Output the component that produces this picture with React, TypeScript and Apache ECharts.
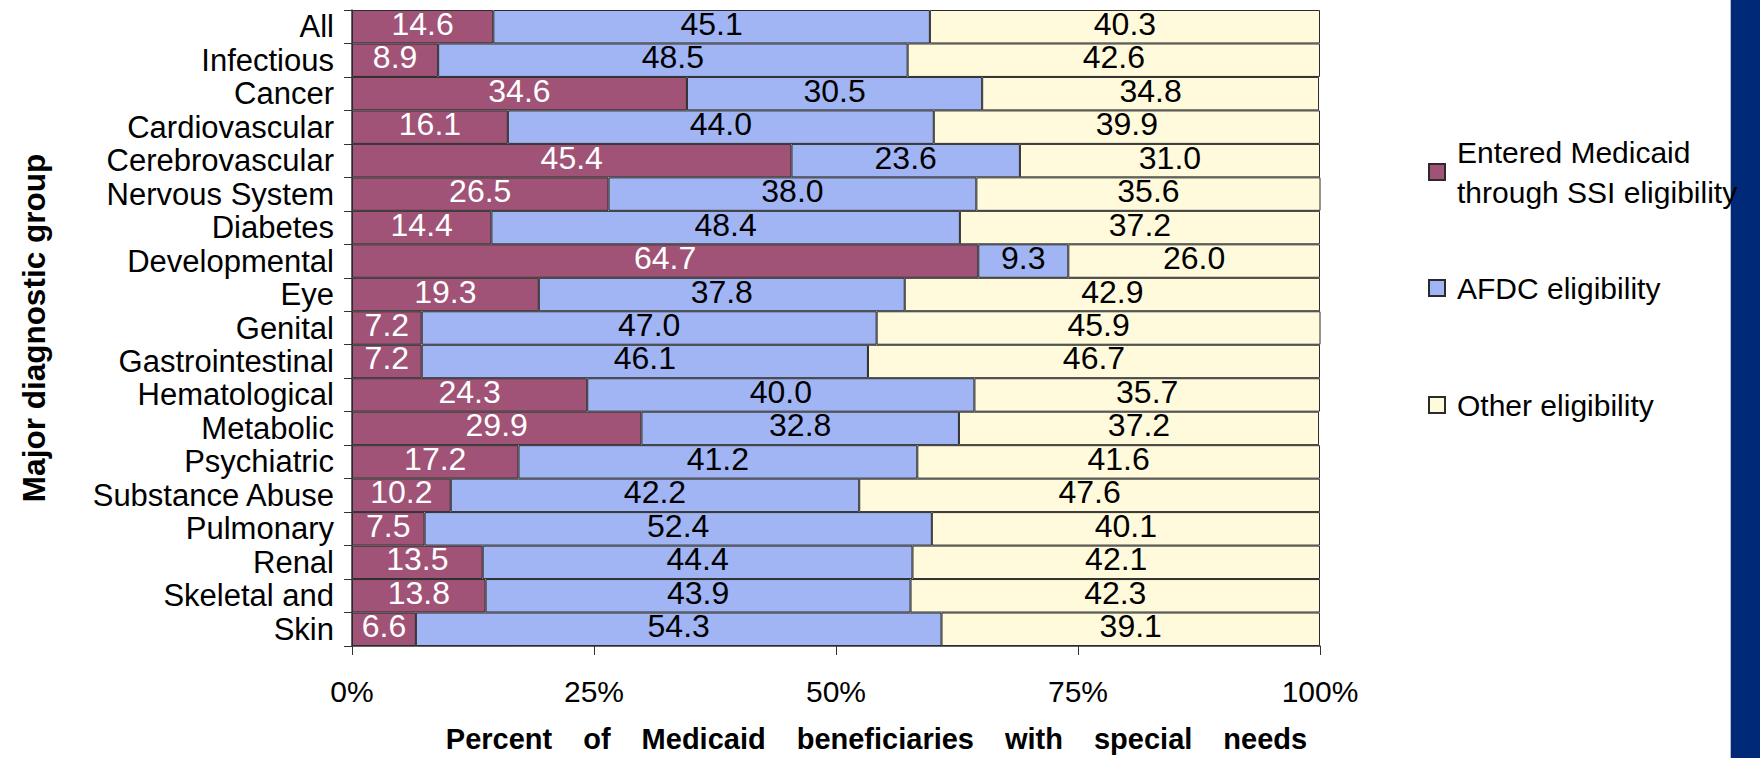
import React, { useEffect, useRef } from "react";
import * as echarts from "echarts";

const categories = [
  "All", "Infectious", "Cancer", "Cardiovascular", "Cerebrovascular", "Nervous System",
  "Diabetes", "Developmental", "Eye", "Genital", "Gastrointestinal", "Hematological",
  "Metabolic", "Psychiatric", "Substance Abuse", "Pulmonary", "Renal", "Skeletal and", "Skin",
];
const ssiValues = [14.6, 8.9, 34.6, 16.1, 45.4, 26.5, 14.4, 64.7, 19.3, 7.2, 7.2, 24.3, 29.9, 17.2, 10.2, 7.5, 13.5, 13.8, 6.6];
const afdcValues = [45.1, 48.5, 30.5, 44.0, 23.6, 38.0, 48.4, 9.3, 37.8, 47.0, 46.1, 40.0, 32.8, 41.2, 42.2, 52.4, 44.4, 43.9, 54.3];
const otherValues = [40.3, 42.6, 34.8, 39.9, 31.0, 35.6, 37.2, 26.0, 42.9, 45.9, 46.7, 35.7, 37.2, 41.6, 47.6, 40.1, 42.1, 42.3, 39.1];
const seriesNames = ["Entered Medicaid through SSI eligibility", "AFDC eligibility", "Other eligibility"];
const xAxisTitleWords = ["Percent", "of", "Medicaid", "beneficiaries", "with", "special", "needs"];
const yAxisTitle = "Major diagnostic group";

const FONT = "'Liberation Sans', Arial, sans-serif";
const COLORS = ["#A05376", "#A1B5F4", "#FFFADB"];
const LABEL_COLORS = ["#FFFFFF", "#000000", "#000000"];

export default function App() {
  const ref = useRef<HTMLDivElement>(null);
  useEffect(() => {
    document.body.style.margin = "0";
    if (!ref.current) return;
    const chart = echarts.init(ref.current, undefined, { renderer: "svg" });
    const dataSets = [ssiValues, afdcValues, otherValues];
    const xName = xAxisTitleWords.map((w, i) => `{${i === 0 ? "f" : "w"}|${w}}`).join("");
    const legendBase = {
      orient: "vertical",
      left: 1428,
      icon: "rect",
      itemWidth: 16,
      itemHeight: 16,
      padding: 0,
      selectedMode: false,
      z: 10,
      formatter: (name: string) =>
        name === seriesNames[0] ? "Entered Medicaid\nthrough SSI eligibility" : name,
    };
    chart.setOption({
      animation: false,
      backgroundColor: "#FFFFFF",
      textStyle: { fontFamily: FONT },
      grid: { left: 352, right: 440, top: 10, bottom: 110, containLabel: false },
      legend: [
        {
          ...legendBase,
          top: 112,
          data: [seriesNames[0]],
          textStyle: { fontSize: 30, lineHeight: 40, color: "#000", fontFamily: FONT, padding: [40, 0, 0, 7] },
        },
        {
          ...legendBase,
          top: 268,
          data: [seriesNames[1]],
          textStyle: { fontSize: 30, lineHeight: 40, color: "#000", fontFamily: FONT, padding: [0, 0, 0, 7] },
        },
        {
          ...legendBase,
          top: 385,
          data: [seriesNames[2]],
          textStyle: { fontSize: 30, lineHeight: 40, color: "#000", fontFamily: FONT, padding: [0, 0, 0, 7] },
        },
      ],
      xAxis: {
        type: "value",
        min: 0,
        max: 100,
        interval: 25,
        axisLine: { show: true, lineStyle: { color: "#333", width: 1.5 } },
        axisTick: { show: true, length: 9, lineStyle: { color: "#333" } },
        splitLine: { show: false },
        axisLabel: { formatter: "{value}%", fontSize: 30, color: "#000", margin: 30, fontFamily: FONT },
        name: xName,
        nameLocation: "middle",
        nameGap: 78,
        nameTextStyle: {
          rich: {
            f: { fontSize: 29, fontWeight: "bold", color: "#000", fontFamily: FONT, padding: [0, 15.5, 0, 96.5] },
            w: { fontSize: 29, fontWeight: "bold", color: "#000", fontFamily: FONT, padding: [0, 15.5, 0, 15.5] },
          },
        },
      },
      yAxis: {
        type: "category",
        inverse: true,
        data: categories,
        axisLine: { show: true, lineStyle: { color: "#333", width: 1.5 } },
        axisTick: { show: true, length: 8, lineStyle: { color: "#333" } },
        axisLabel: { interval: 0, fontSize: 31, color: "#000", margin: 18, fontFamily: FONT },
        name: yAxisTitle,
        nameLocation: "middle",
        nameRotate: 90,
        nameGap: 302,
        nameTextStyle: { fontSize: 31.5, fontWeight: "bold", color: "#000", fontFamily: FONT },
      },
      graphic: [
        { type: "rect", z: 0, shape: { x: 1730, y: 0, width: 1, height: 758 }, style: { fill: "#B8BCC8" } },
        { type: "rect", z: 0, shape: { x: 1731, y: 0, width: 29, height: 758 }, style: { fill: "#002A78" } },
      ],
      series: dataSets.map((d, i) => ({
        type: "bar",
        name: seriesNames[i],
        stack: "total",
        data: d,
        barCategoryGap: "0%",
        itemStyle: { color: COLORS[i], borderColor: "#2B2B2B", borderWidth: 1 },
        label: {
          show: true,
          position: "inside",
          offset: [0, -3],
          fontSize: 32,
          color: LABEL_COLORS[i],
          fontFamily: FONT,
          textBorderWidth: 0,
          formatter: (p: any) => Number(p.value).toFixed(1),
        },
      })),
    });
    return () => chart.dispose();
  }, []);
  return <div ref={ref} style={{ width: 1760, height: 758 }} />;
}
